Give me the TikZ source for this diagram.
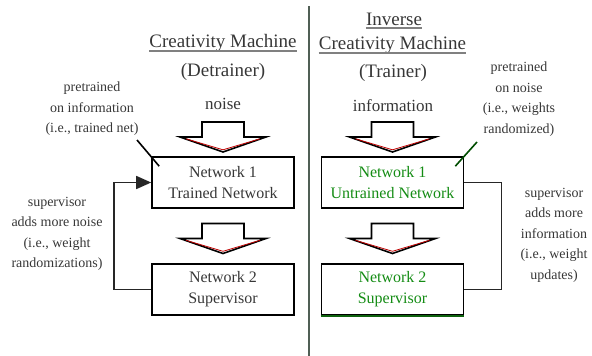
\documentclass[tikz,border=0pt]{standalone}
\usepackage{fontspec}
\setmainfont{Liberation Serif}
\usetikzlibrary{arrows.meta}

\definecolor{netgreen}{RGB}{20,140,20}
\definecolor{divgray}{RGB}{80,95,85}
\definecolor{inkgray}{RGB}{55,55,55}

% hollow down arrow: centre x, top y
\newcommand{\fatarrow}[2]{%
  \filldraw[fill=white, draw=black, line width=1.6pt, line join=miter]
    (#1-21,#2) -- (#1+21,#2) -- (#1+21,#2+15) -- (#1+43,#2+15)
    -- (#1,#2+30) -- (#1-43,#2+15) -- (#1-21,#2+15) -- cycle;
  \draw[red!75!black, line width=0.8pt]
    (#1-37,#2+16.8) -- (#1,#2+27.8) -- (#1+37,#2+16.8);
}

\begin{document}
\begin{tikzpicture}[x=1pt,y=-1pt,
    netbox/.style={draw, line width=1.6pt, minimum width=142pt, minimum height=51pt,
      align=center, text=inkgray, font=\fontsize{16}{21}\selectfont},
    title/.style={anchor=base, inner xsep=0pt, text=inkgray, font=\fontsize{19}{23}\selectfont},
    inlabel/.style={anchor=base, text=inkgray, font=\fontsize{17}{21}\selectfont},
    remark/.style={align=center, text=inkgray, font=\fontsize{14}{20.5}\selectfont},
    uline/.style={draw=gray, line width=1.3pt},
    feedback/.style={draw=black!85, line width=1.6pt},
    pointer/.style={draw=black, line width=1.6pt}]
  \useasboundingbox (0,0) rectangle (592,356);

  % divider
  \draw[divgray, line width=2.5pt] (309,6) -- (309,356);

  % left: detrainer
  \node[title] (cmA) at (223,47) {Creativity Machine};
  \node[title] (detr) at (223,76) {(Detrainer)};
  \node[inlabel] (noise) at (223,109) {noise};
  \draw[uline] ([yshift=-4pt]cmA.base west) -- ([yshift=-4pt]cmA.base east);

  \node[remark] (preA) at (92,109) {pretrained\\on information\\(i.e., trained net)};
  \node[remark] (supvA) at (57,234) {supervisor\\adds more noise\\(i.e., weight\\randomizations)};

  \fatarrow{223}{122}
  \fatarrow{223}{223.5}

  \node[netbox] (netA) at (223,182.5) {Network 1\\Trained Network};
  \node[netbox] (supA) at (223,289.5) {Network 2\\Supervisor};

  \draw[feedback, -{Triangle[length=15pt,width=13pt]}] (supA.west) -- ++(-37,0) |- (netA.west);
  \coordinate (tagA) at (137,140);
  \draw[pointer] (tagA) -- ([xshift=8pt,yshift=-10pt]netA.north west);

  % right: trainer
  \node[title] (inv) at (394,25) {Inverse};
  \node[title] (cmB) at (392.5,49) {Creativity Machine};
  \node[title] (trn) at (393,77) {(Trainer)};
  \node[inlabel] (info) at (393,111) {information};
  \draw[uline] ([yshift=-3pt]inv.base west) -- ([yshift=-3pt]inv.base east);
  \draw[uline] ([yshift=-4pt]cmB.base west) -- ([yshift=-4pt]cmB.base east);

  \node[remark] (preB) at (519,99) {pretrained\\on noise\\(i.e., weights\\randomized)};
  \node[remark] (supvB) at (554,235) {supervisor\\adds more\\information\\(i.e., weight\\updates)};

  \fatarrow{392.5}{122}
  \fatarrow{392.5}{223.5}

  \node[netbox, text=netgreen] (netB) at (392.5,182.5) {Network 1\\Untrained Network};
  \node[netbox, text=netgreen] (supB) at (392.5,289.5) {Network 2\\Supervisor};
  \draw[netgreen!70!black, line width=1.6pt] (supB.south west) -- (supB.south east);

  \draw[feedback] (netB.east) -- ++(37,0) |- (supB.east);
  \coordinate (tagB) at (477,142);
  \draw[pointer, draw=black!70!green] (tagB) -- ([xshift=-9pt,yshift=-10pt]netB.north east);
\end{tikzpicture}
\end{document}
